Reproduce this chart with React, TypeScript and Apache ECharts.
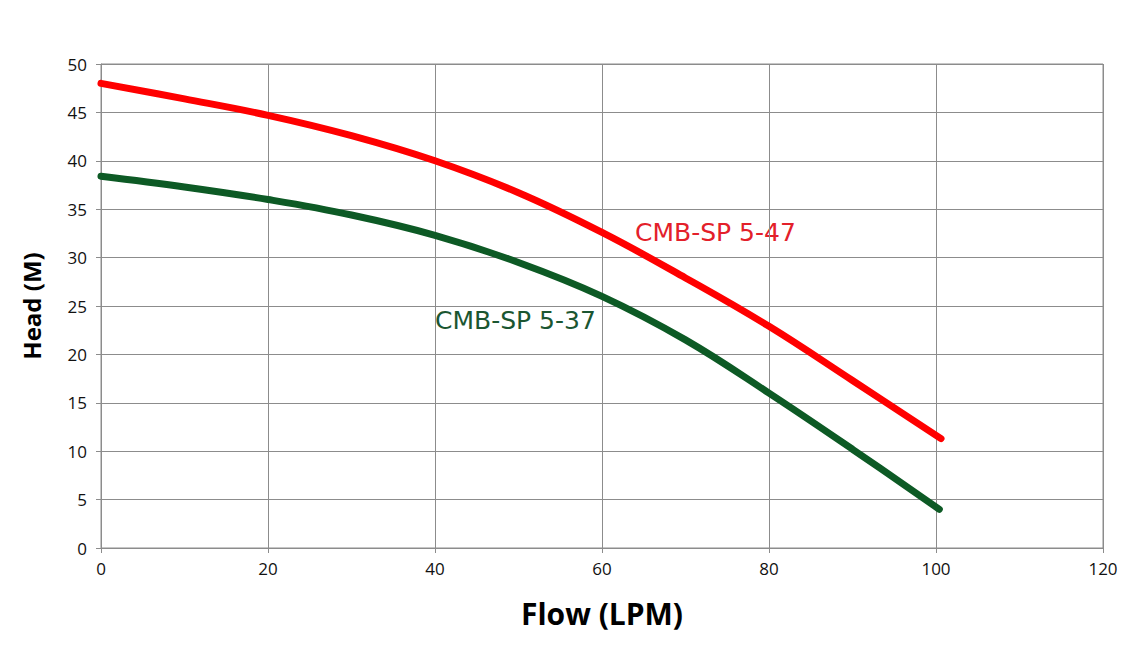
import React, { useEffect, useRef } from "react";
import * as echarts from "echarts";

const flow47 = [0, 10, 20, 30, 40, 50, 60, 70, 80, 90, 100.6];
const head47 = [48.0, 46.4, 44.7, 42.6, 40.0, 36.7, 32.6, 27.9, 22.9, 17.3, 11.3];
const flow37 = [0, 10, 20, 30, 40, 50, 60, 70, 80, 90, 100.4];
const head37 = [38.4, 37.3, 36.0, 34.4, 32.3, 29.5, 26.0, 21.5, 16.0, 10.2, 4.0];
const label47 = "CMB-SP 5-47";
const label37 = "CMB-SP 5-37";

const tickFont = "'Liberation Sans Narrow', 'Open Sans', sans-serif";
const nameFont = "'Open Sans', 'Liberation Sans', sans-serif";

export default function App() {
  const ref = useRef<HTMLDivElement>(null);
  useEffect(() => {
    const chart = echarts.init(ref.current!, null, { renderer: "svg" });
    const gridColor = "#8c8c8c";
    chart.setOption({
      animation: false,
      backgroundColor: "#ffffff",
      grid: { left: 101, right: 29, top: 64, bottom: 97, show: true, borderColor: gridColor, borderWidth: 1 },
      xAxis: {
        type: "value",
        min: 0,
        max: 120,
        interval: 20,
        name: "Flow (LPM)",
        nameLocation: "middle",
        nameGap: 50,
        nameTextStyle: { fontFamily: nameFont, fontWeight: "bold", fontSize: 30, color: "#000" },
        axisLine: { lineStyle: { color: gridColor } },
        axisTick: { show: true, length: 5, lineStyle: { color: gridColor } },
        axisLabel: { fontFamily: tickFont, fontSize: 17, color: "#111", margin: 12 },
        splitLine: { show: true, lineStyle: { color: gridColor, width: 1 } },
      },
      yAxis: {
        type: "value",
        min: 0,
        max: 50,
        interval: 5,
        name: "Head (M)",
        nameLocation: "middle",
        nameGap: 58,
        nameRotate: 90,
        nameTextStyle: { fontFamily: nameFont, fontWeight: "bold", fontSize: 24, color: "#000" },
        axisLine: { show: true, lineStyle: { color: gridColor } },
        axisTick: { show: true, length: 5, lineStyle: { color: gridColor } },
        axisLabel: { fontFamily: tickFont, fontSize: 17, color: "#111", margin: 14 },
        splitLine: { show: true, lineStyle: { color: gridColor, width: 1 } },
      },
      series: [
        {
          name: label47,
          type: "line",
          smooth: 0.4,
          showSymbol: false,
          data: flow47.map((x, i) => [x, head47[i]]),
          lineStyle: { color: "#ff0000", width: 7, cap: "round" },
        },
        {
          name: label37,
          type: "line",
          smooth: 0.4,
          showSymbol: false,
          data: flow37.map((x, i) => [x, head37[i]]),
          lineStyle: { color: "#0d5a25", width: 7, cap: "round" },
        },
      ],
      graphic: [
        {
          type: "text",
          left: 635,
          top: 220,
          style: { text: label47, fill: "#e3202a", fontSize: 25, fontFamily: "'DejaVu Sans', Verdana, sans-serif" },
        },
        {
          type: "text",
          left: 435,
          top: 308,
          style: { text: label37, fill: "#1b5631", fontSize: 25, fontFamily: "'DejaVu Sans', Verdana, sans-serif" },
        },
      ],
    });
    return () => chart.dispose();
  }, []);
  return (
    <div
      ref={ref}
      style={{ position: "fixed", left: 0, top: 0, width: 1132, height: 645, background: "#fff" }}
    />
  );
}
